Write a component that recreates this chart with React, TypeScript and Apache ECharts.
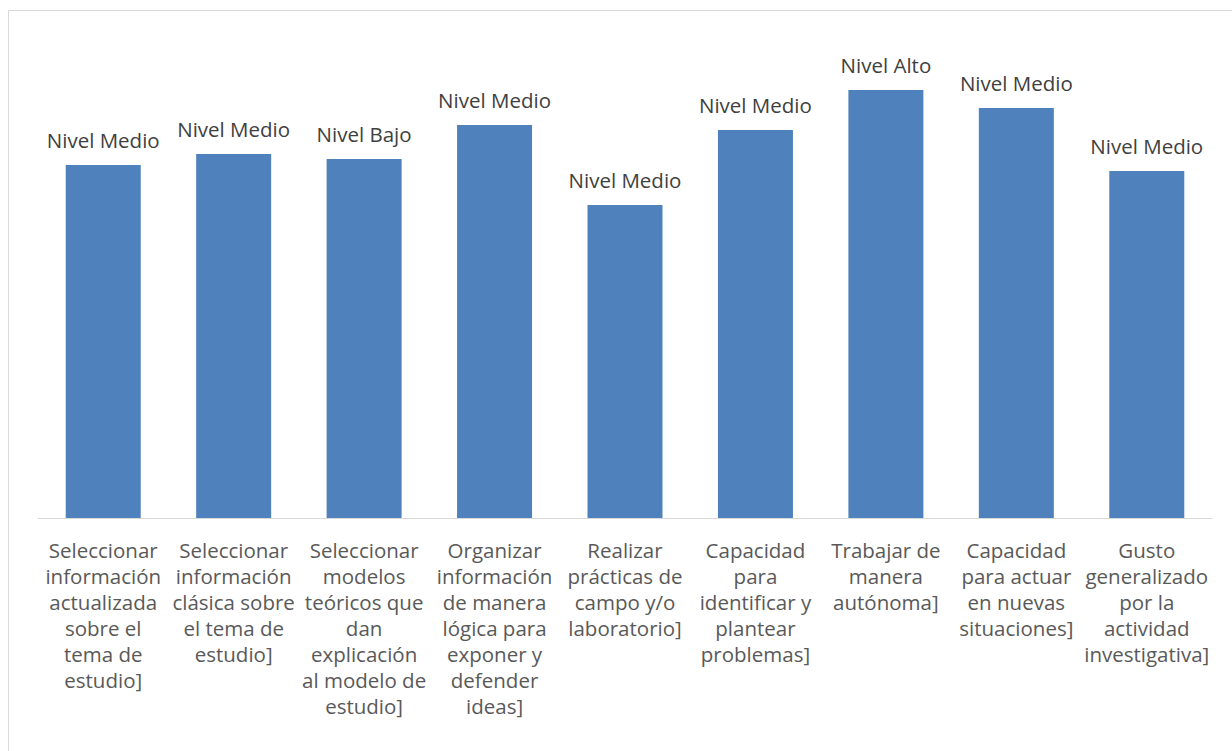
import React, { useEffect, useRef } from "react";
import * as echarts from "echarts";

const categories = [
  "Seleccionar\ninformación\nactualizada\nsobre el\ntema de\nestudio]",
  "Seleccionar\ninformación\nclásica sobre\nel tema de\nestudio]",
  "Seleccionar\nmodelos\nteóricos que\ndan\nexplicación\nal modelo de\nestudio]",
  "Organizar\ninformación\nde manera\nlógica para\nexponer y\ndefender\nideas]",
  "Realizar\nprácticas de\ncampo y/o\nlaboratorio]",
  "Capacidad\npara\nidentificar y\nplantear\nproblemas]",
  "Trabajar de\nmanera\nautónoma]",
  "Capacidad\npara actuar\nen nuevas\nsituaciones]",
  "Gusto\ngeneralizado\npor la\nactividad\ninvestigativa]",
];
const values = [3.53, 3.64, 3.59, 3.93, 3.13, 3.88, 4.28, 4.1, 3.47];
const levels = [
  "Nivel Medio",
  "Nivel Medio",
  "Nivel Bajo",
  "Nivel Medio",
  "Nivel Medio",
  "Nivel Medio",
  "Nivel Alto",
  "Nivel Medio",
  "Nivel Medio",
];

const FONT = "Open Sans";

export default function App() {
  const ref = useRef<HTMLDivElement>(null);
  useEffect(() => {
    document.body.style.margin = "0";
    const chart = echarts.init(ref.current!, null, { renderer: "svg" });
    chart.setOption({
      animation: false,
      backgroundColor: "#ffffff",
      graphic: [
        {
          type: "rect",
          shape: { x: 8.5, y: 10.5, width: 1300, height: 800 },
          style: { fill: "none", stroke: "#d9d9d9", lineWidth: 1 },
          silent: true,
        },
      ],
      grid: { left: 38, right: 20, top: 18, bottom: 233, containLabel: false },
      xAxis: {
        type: "category",
        data: categories,
        axisLine: { show: true, lineStyle: { color: "#d9d9d9", width: 1 } },
        axisTick: { show: false },
        axisLabel: {
          interval: 0,
          color: "#595959",
          fontFamily: FONT,
          fontSize: 20.5,
          lineHeight: 26,
          margin: 19,
          align: "center",
        },
      },
      yAxis: {
        type: "value",
        min: 0,
        max: 5,
        show: false,
        splitLine: { show: false },
      },
      series: [
        {
          type: "bar",
          data: values,
          barWidth: 75,
          itemStyle: { color: "#4f81bd" },
          label: {
            show: true,
            position: "top",
            distance: 15,
            color: "#404040",
            fontFamily: FONT,
            fontSize: 20.5,
            formatter: (p: any) => levels[p.dataIndex],
          },
        },
      ],
    });
    return () => chart.dispose();
  }, []);
  return <div ref={ref} style={{ width: 1232, height: 751 }} />;
}
